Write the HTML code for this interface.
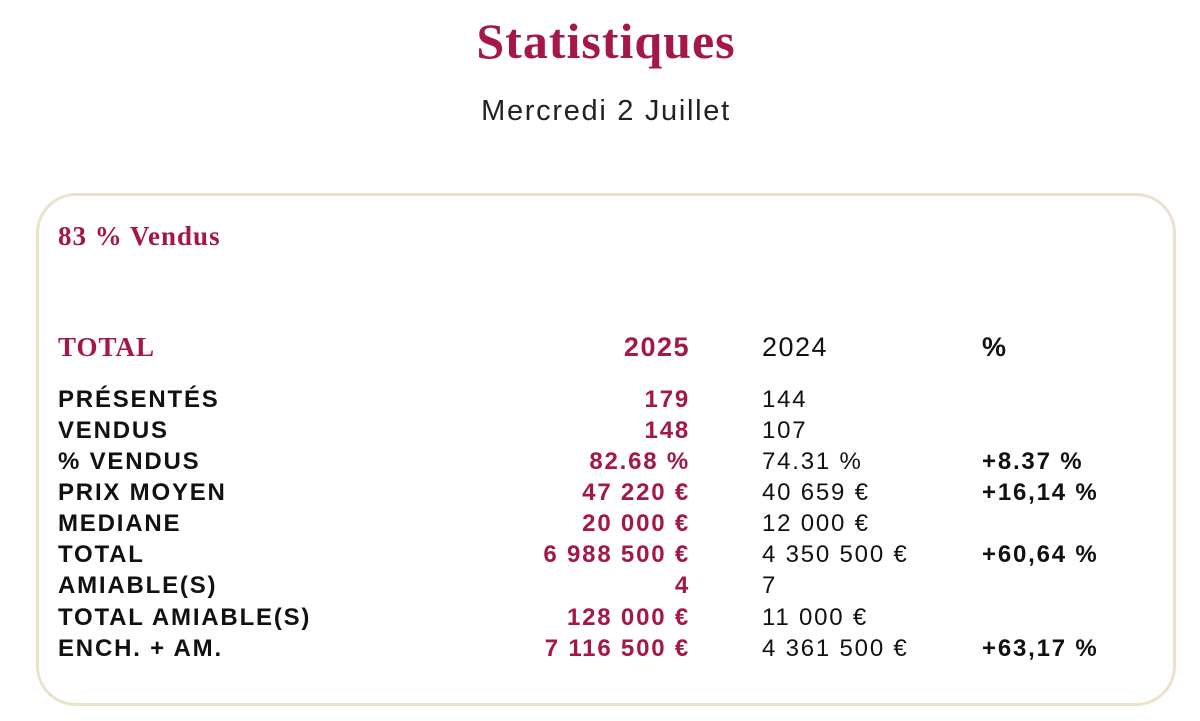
<!DOCTYPE html>
<html><head><meta charset="utf-8"><style>
body{margin:0;width:1200px;height:721px;background:#fff;position:relative;overflow:hidden;font-family:"Liberation Sans",sans-serif;}
.a{position:absolute;white-space:nowrap;line-height:1;}
.t{left:0;width:1212px;text-align:center;top:16px;font-family:"Liberation Serif",serif;font-weight:bold;font-size:50px;color:#a3174a;letter-spacing:1px}
.s{left:0;width:1212px;text-align:center;top:97px;font-size:29px;color:#222;letter-spacing:1.7px}
.box{position:absolute;left:36px;top:193px;width:1134px;height:507px;border:3px solid #ebe1cc;border-radius:40px}
.v{left:58px;top:223px;font-family:"Liberation Serif",serif;font-weight:bold;font-size:27px;color:#a3174a;letter-spacing:1px}
.h{font-size:27px;top:334px}
.r{font-size:24px;letter-spacing:1.8px}
.l{left:58px;font-weight:bold;color:#111}
.c{right:510px;text-align:right;font-weight:bold;color:#a3174a}
.d{left:762px;color:#111}
.p{left:982px;font-weight:bold;color:#111}
</style></head><body>
<div class="a t">Statistiques</div>
<div class="a s">Mercredi 2 Juillet</div>
<div class="box"></div>
<div class="a v">83 % Vendus</div>
<div class="a h" style="left:58px;font-family:'Liberation Serif',serif;font-weight:bold;color:#a3174a;letter-spacing:1px">TOTAL</div>
<div class="a h c" style="font-size:27px;letter-spacing:1.5px">2025</div>
<div class="a h d" style="letter-spacing:1.5px">2024</div>
<div class="a h p">%</div>

<div class="a r l" style="top:388px">PRÉSENTÉS</div><div class="a r c" style="top:388px">179</div><div class="a r d" style="top:388px">144</div>
<div class="a r l" style="top:419px">VENDUS</div><div class="a r c" style="top:419px">148</div><div class="a r d" style="top:419px">107</div>
<div class="a r l" style="top:450px">% VENDUS</div><div class="a r c" style="top:450px">82.68 %</div><div class="a r d" style="top:450px">74.31 %</div><div class="a r p" style="top:450px">+8.37 %</div>
<div class="a r l" style="top:481px">PRIX MOYEN</div><div class="a r c" style="top:481px">47 220 €</div><div class="a r d" style="top:481px">40 659 €</div><div class="a r p" style="top:481px">+16,14 %</div>
<div class="a r l" style="top:512px">MEDIANE</div><div class="a r c" style="top:512px">20 000 €</div><div class="a r d" style="top:512px">12 000 €</div>
<div class="a r l" style="top:543px">TOTAL</div><div class="a r c" style="top:543px">6 988 500 €</div><div class="a r d" style="top:543px">4 350 500 €</div><div class="a r p" style="top:543px">+60,64 %</div>
<div class="a r l" style="top:574px">AMIABLE(S)</div><div class="a r c" style="top:574px">4</div><div class="a r d" style="top:574px">7</div>
<div class="a r l" style="top:606px">TOTAL AMIABLE(S)</div><div class="a r c" style="top:606px">128 000 €</div><div class="a r d" style="top:606px">11 000 €</div>
<div class="a r l" style="top:637px">ENCH. + AM.</div><div class="a r c" style="top:637px">7 116 500 €</div><div class="a r d" style="top:637px">4 361 500 €</div><div class="a r p" style="top:637px">+63,17 %</div>
</body></html>
